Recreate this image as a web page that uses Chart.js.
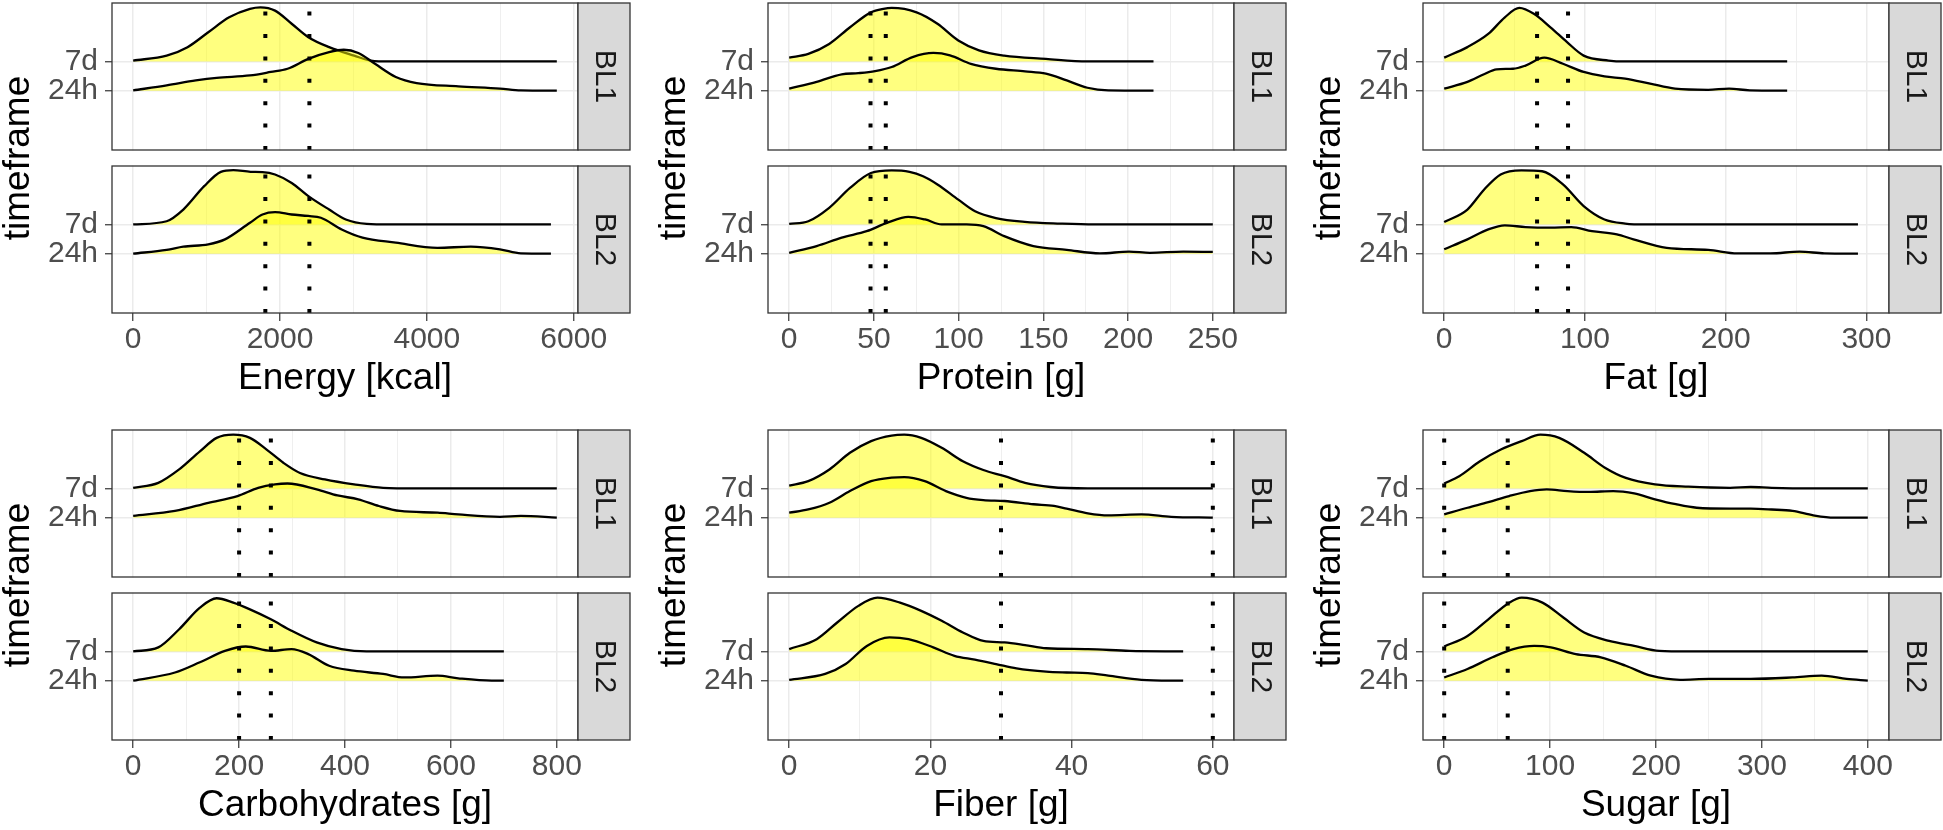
<!DOCTYPE html>
<html>
<head>
<meta charset="utf-8">
<script src="https://cdn.jsdelivr.net/npm/chart.js@4.4.1/dist/chart.umd.min.js"></script>
<style>
html,body{margin:0;padding:0;background:#ffffff;}
body{width:1943px;height:830px;position:relative;overflow:hidden;}
.cell{position:absolute;}
</style>
</head>
<body>
<script>
// ---------------- data ----------------
const timeframes = ['24h', '7d'];
const facets = ['BL1', 'BL2'];
const variables = ['Energy [kcal]', 'Protein [g]', 'Fat [g]', 'Carbohydrates [g]', 'Fiber [g]', 'Sugar [g]'];

// x tick labels (major) per variable
const energyTicks = [0, 2000, 4000, 6000];
const proteinTicks = [0, 50, 100, 150, 200, 250];
const fatTicks = [0, 100, 200, 300];
const carbsTicks = [0, 200, 400, 600, 800];
const fiberTicks = [0, 20, 40, 60];
const sugarTicks = [0, 100, 200, 300, 400];

// data range of each variable (x)
const energyRange = [0, 5770];
const proteinRange = [0, 250];
const fatRange = [0, 301];
const carbsRange = [0, 800];
const fiberRange = [0, 60];
const sugarRange = [0, 400];

// reference lines (dotted verticals)
const energyRef = [1800, 2400];
const proteinRef = [48, 57];
const fatRef = [66, 88];
const carbsRef = [200, 260];
const fiberRef = [30, 60];
const sugarRef = [0, 60];

// ridgeline heights [value, height]
const energy_BL1_7d = [[0,0.03],[456,0.20],[740,0.49],[1023,1.0],[1307,1.51],[1591,1.80],[1733,1.85],[1932,1.74],[2159,1.29],[2386,0.83],[2669,0.49],[3010,0.20],[3237,0.03],[3500,0],[5770,0]];
const energy_BL1_24h = [[0,0.01],[456,0.18],[853,0.35],[1137,0.44],[1591,0.52],[1875,0.64],[2102,0.75],[2386,1.09],[2669,1.32],[2868,1.40],[3066,1.29],[3293,0.92],[3577,0.47],[3861,0.26],[4428,0.15],[4996,0.07],[5280,0.01],[5770,0]];
const energy_BL2_7d = [[0,0],[456,0.11],[683,0.51],[967,1.31],[1194,1.80],[1364,1.86],[1600,1.80],[1761,1.79],[1932,1.71],[2159,1.42],[2386,0.97],[2669,0.51],[2896,0.17],[3180,0.02],[3500,0],[5690,0]];
const energy_BL2_24h = [[0,0],[456,0.13],[683,0.24],[1023,0.32],[1250,0.49],[1591,1.06],[1761,1.34],[1932,1.42],[2159,1.34],[2386,1.29],[2556,1.23],[2840,0.83],[3123,0.55],[3577,0.38],[4144,0.20],[4598,0.24],[4996,0.15],[5280,0.01],[5690,0]];

const protein_BL1_7d = [[0,0.13],[11.3,0.26],[23.6,0.60],[35.9,1.17],[48.2,1.68],[55.6,1.80],[60.5,1.83],[75.2,1.68],[87.5,1.29],[99.8,0.72],[112,0.38],[126.9,0.20],[151.5,0.09],[176,0],[215,0]];
const protein_BL1_24h = [[0,0.07],[16.2,0.30],[31,0.56],[40.8,0.60],[50.7,0.67],[60.5,0.81],[72.8,1.15],[85.1,1.29],[94.9,1.21],[107.2,0.92],[122,0.75],[139.2,0.66],[151.5,0.58],[163.8,0.35],[176,0.10],[188.3,0.01],[215,0]];
const protein_BL2_7d = [[0,0.02],[11.3,0.11],[23.6,0.57],[35.9,1.25],[48.2,1.76],[60.5,1.85],[71,1.80],[79,1.65],[87.5,1.37],[99.8,0.85],[109.7,0.45],[122,0.22],[139,0.09],[160,0.03],[180,0],[250,0]];
const protein_BL2_24h = [[0,0.03],[16.2,0.26],[31,0.55],[45.7,0.77],[58,1.06],[70.3,1.26],[80.2,1.17],[90,1.00],[104.7,1.00],[114.6,0.94],[126.9,0.60],[144.1,0.26],[163.8,0.13],[183.4,0.01],[200.6,0.07],[212.9,0.03],[232.6,0.07],[250,0.06]];

const fat_BL1_7d = [[0,0.13],[16.5,0.49],[31.3,0.94],[43.1,1.51],[53.4,1.83],[63.7,1.63],[75.5,1.17],[87.3,0.66],[99.1,0.20],[116.8,0.03],[128.6,0],[243.7,0]];
const fat_BL1_24h = [[0,0.07],[16.5,0.30],[28.3,0.56],[37.2,0.73],[49,0.75],[57.8,0.86],[71.1,1.13],[84.4,0.92],[99.1,0.64],[113.9,0.49],[128.6,0.41],[146.3,0.24],[164,0.07],[187.6,0.03],[202.4,0.07],[217.1,0.01],[243.7,0]];
const fat_BL2_7d = [[0,0.08],[16.5,0.51],[28.3,1.19],[40.1,1.71],[54.9,1.85],[69.6,1.82],[84.4,1.37],[99.1,0.63],[113.9,0.17],[128.6,0.03],[143.4,0],[294,0]];
const fat_BL2_24h = [[0,0.15],[16.5,0.49],[31.3,0.83],[43.1,0.97],[57.8,0.91],[75.5,0.89],[90.3,0.91],[105,0.77],[122.7,0.66],[134.5,0.49],[158.1,0.20],[187.6,0.13],[208.3,0.01],[231.9,0.01],[252.5,0.07],[270.2,0.01],[294,0]];

const carbs_BL1_7d = [[0,0.02],[47.4,0.19],[86.8,0.65],[126,1.27],[157.6,1.73],[189,1.84],[220.5,1.73],[252,1.33],[283.5,0.88],[315,0.53],[362,0.31],[417,0.14],[472,0.02],[535,0],[800,0]];
const carbs_BL1_24h = [[0,0.06],[78.9,0.23],[141.9,0.51],[197,0.74],[236,1.02],[267.7,1.14],[291.3,1.17],[346.5,0.97],[385.8,0.76],[425,0.63],[464,0.40],[504,0.23],[575,0.17],[614,0.11],[692.6,0.03],[732,0.06],[800,0]];
const carbs_BL2_7d = [[0,0],[47.4,0.14],[86.8,0.76],[126,1.50],[157.6,1.82],[189,1.67],[220.5,1.44],[260,1.10],[299,0.71],[346.5,0.31],[393.6,0.08],[440.6,0],[700,0]];
const carbs_BL2_24h = [[0,0],[78.9,0.28],[126,0.63],[173.3,1.02],[212.7,1.17],[260,1.02],[299,1.08],[330.7,0.91],[370,0.51],[417,0.34],[472,0.23],[511.6,0.11],[574.6,0.17],[614,0.08],[677,0],[700,0]];

const fiber_BL1_7d = [[0,0.10],[2.7,0.25],[5.7,0.65],[8.6,1.22],[11.6,1.62],[14.5,1.81],[16.3,1.84],[18.7,1.73],[21.6,1.39],[24.6,0.93],[27.5,0.63],[30.5,0.42],[33.4,0.19],[37,0.05],[42.3,0],[60,0]];
const fiber_BL1_24h = [[0,0.17],[2.7,0.28],[5.7,0.51],[8.6,0.91],[11.6,1.25],[14.5,1.37],[16.3,1.39],[19.2,1.25],[22.2,0.91],[25.1,0.68],[27.5,0.60],[30.5,0.57],[34.6,0.46],[37.5,0.40],[39.3,0.31],[42.3,0.15],[45.2,0.08],[49.9,0.11],[54.1,0.03],[60,0]];
const fiber_BL2_7d = [[0,0.08],[3.9,0.42],[6.8,0.99],[9.8,1.56],[12.5,1.84],[15.7,1.67],[18.7,1.39],[21.6,1.05],[24.6,0.65],[27.5,0.36],[30.5,0.31],[33.4,0.22],[36.4,0.11],[42.3,0.08],[48.2,0.02],[55.8,0]];
const fiber_BL2_24h = [[0,0.03],[5.1,0.23],[8,0.57],[11,1.19],[14.2,1.48],[16.9,1.42],[20.4,1.14],[23.4,0.85],[26.3,0.72],[29.3,0.57],[32.2,0.42],[36.4,0.31],[39.3,0.28],[42.3,0.26],[45.2,0.17],[49.9,0.03],[55.8,0]];

const sugar_BL1_7d = [[0,0.17],[14.2,0.42],[33.8,0.93],[53.5,1.33],[73.2,1.62],[90.9,1.84],[108.6,1.73],[132.2,1.22],[151.8,0.71],[171.5,0.36],[199,0.14],[230.5,0.06],[269.9,0.02],[289.5,0.05],[309.2,0.02],[348.5,0],[400,0]];
const sugar_BL1_24h = [[0,0.11],[22,0.34],[41.7,0.53],[61.4,0.74],[81,0.91],[96.8,0.97],[116.4,0.91],[136.1,0.88],[159.7,0.91],[179.4,0.83],[199,0.63],[218.7,0.46],[238.4,0.34],[269.9,0.31],[289.5,0.31],[309.2,0.28],[328.9,0.23],[348.5,0.08],[368.2,0],[400,0]];
const sugar_BL2_7d = [[0,0.17],[22,0.53],[41.7,1.10],[61.4,1.67],[73.2,1.84],[92.8,1.67],[112.5,1.16],[132.2,0.65],[155.8,0.36],[179.4,0.19],[203,0.02],[230.5,0],[400,0]];
const sugar_BL2_24h = [[0,0.11],[22,0.40],[45.6,0.80],[65.3,1.08],[85,1.19],[100.7,1.14],[124.3,0.91],[147.9,0.80],[171.5,0.51],[195.1,0.17],[222.7,0.03],[250.2,0.06],[289.5,0.06],[328.9,0.11],[356.4,0.17],[380,0.06],[400,0]];

// ---------------- assembly ----------------
const VARS = [
  {ticks: energyTicks, range: energyRange, refs: energyRef,
   dens: {BL1: {'7d': energy_BL1_7d, '24h': energy_BL1_24h}, BL2: {'7d': energy_BL2_7d, '24h': energy_BL2_24h}}},
  {ticks: proteinTicks, range: proteinRange, refs: proteinRef,
   dens: {BL1: {'7d': protein_BL1_7d, '24h': protein_BL1_24h}, BL2: {'7d': protein_BL2_7d, '24h': protein_BL2_24h}}},
  {ticks: fatTicks, range: fatRange, refs: fatRef,
   dens: {BL1: {'7d': fat_BL1_7d, '24h': fat_BL1_24h}, BL2: {'7d': fat_BL2_7d, '24h': fat_BL2_24h}}},
  {ticks: carbsTicks, range: carbsRange, refs: carbsRef,
   dens: {BL1: {'7d': carbs_BL1_7d, '24h': carbs_BL1_24h}, BL2: {'7d': carbs_BL2_7d, '24h': carbs_BL2_24h}}},
  {ticks: fiberTicks, range: fiberRange, refs: fiberRef,
   dens: {BL1: {'7d': fiber_BL1_7d, '24h': fiber_BL1_24h}, BL2: {'7d': fiber_BL2_7d, '24h': fiber_BL2_24h}}},
  {ticks: sugarTicks, range: sugarRange, refs: sugarRef,
   dens: {BL1: {'7d': sugar_BL1_7d, '24h': sugar_BL1_24h}, BL2: {'7d': sugar_BL2_7d, '24h': sugar_BL2_24h}}}
];

// layout
const FONT = "'Liberation Sans', Arial, Helvetica, sans-serif";
Chart.defaults.font.family = FONT;
Chart.defaults.animation = false;

const COL_LEFT = [0, 656, 1311];
const ROW_TOP = [0, 427];
const CW = 632, CH = 401;
const PAD_TOP = 3, PAD_RIGHT = 54, YAXIS_W = 112, XAXIS_H = 88, STRIP_W = 52;
const PANEL_PX = 147, GAP_PX = 16;
const Y_LO = -1.03, Y_HI = 4.0;
const GAP_U = GAP_PX * (Y_HI - Y_LO) / PANEL_PX;
const OFF = (Y_HI - Y_LO) + GAP_U;          // vertical offset of the upper facet
const facetOffset = {BL1: OFF, BL2: 0};
const basePos = {'24h': 1, '7d': 2};

const GRID = '#EBEBEB', DARK = '#333333';
const TICK_SIZE = 30, TITLE_SIZE = 37;

function panelPlugin() {
  return {
    id: 'panels',
    beforeDatasetsDraw(chart) {
      const {ctx, chartArea: a, scales: {y}} = chart;
      const t = y.getPixelForValue(Y_LO + OFF);
      const b = y.getPixelForValue(Y_HI);
      ctx.save();
      ctx.fillStyle = '#ffffff';
      ctx.fillRect(a.left - 1, t + 0.5, a.right - a.left + 2, b - t - 1);
      ctx.restore();
    },
    afterDatasetsDraw(chart) {
      const {ctx, chartArea: a, scales: {y}} = chart;
      ctx.save();
      facets.forEach(f => {
        const top = y.getPixelForValue(facetOffset[f] + Y_HI);
        const bot = y.getPixelForValue(facetOffset[f] + Y_LO);
        ctx.lineWidth = 1.3;
        ctx.strokeStyle = DARK;
        ctx.strokeRect(a.left, top, a.right - a.left, bot - top);
        ctx.fillStyle = '#D9D9D9';
        ctx.fillRect(a.right, top, STRIP_W, bot - top);
        ctx.strokeRect(a.right, top, STRIP_W, bot - top);
        ctx.save();
        ctx.translate(a.right + STRIP_W / 2, (top + bot) / 2);
        ctx.rotate(Math.PI / 2);
        ctx.fillStyle = '#1A1A1A';
        ctx.font = TICK_SIZE + 'px ' + FONT;
        ctx.textAlign = 'center';
        ctx.textBaseline = 'middle';
        ctx.fillText(f, 0, 0);
        ctx.restore();
      });
      ctx.restore();
    }
  };
}

VARS.forEach((v, i) => {
  const col = i % 3, row = Math.floor(i / 3);
  const D = v.range[1] - v.range[0];
  const xmin = v.range[0] - 0.05 * D, xmax = v.range[1] + 0.05 * D;
  const step = v.ticks[1] - v.ticks[0];
  const gridVals = [];
  v.ticks.forEach((t, k) => { gridVals.push(t); if (k < v.ticks.length - 1) gridVals.push(t + step / 2); });
  const isMajor = val => v.ticks.includes(val);

  const datasets = [];
  facets.forEach(f => {
    const off = facetOffset[f];
    ['7d', '24h'].forEach(tf => {
      const base = off + basePos[tf];
      datasets.push({
        type: 'line',
        label: f + ' ' + tf,
        data: v.dens[f][tf].map(p => ({x: p[0], y: base + p[1]})),
        fill: {value: base},
        backgroundColor: 'rgba(255,255,0,0.5)',
        borderColor: '#000000',
        borderWidth: 2.3,
        pointRadius: 0,
        cubicInterpolationMode: 'monotone',
        order: tf === '7d' ? 3 : 2
      });
    });
    v.refs.forEach(r => {
      datasets.push({
        type: 'line',
        label: f + ' ref ' + r,
        data: [{x: r, y: off + Y_LO}, {x: r, y: off + Y_HI}],
        fill: false,
        borderColor: '#000000',
        borderWidth: 4,
        borderDash: [4, 18.4],
        borderCapStyle: 'butt',
        pointRadius: 0,
        order: 1
      });
    });
  });

  const yTickVals = [];
  const yTickLabels = [];
  ['BL2', 'BL1'].forEach(f => timeframes.forEach(tf => { yTickVals.push(facetOffset[f] + basePos[tf]); yTickLabels.push(tf); }));

  const box = document.createElement('div');
  box.className = 'cell';
  box.style.left = COL_LEFT[col] + 'px';
  box.style.top = ROW_TOP[row] + 'px';
  box.style.width = CW + 'px';
  box.style.height = CH + 'px';
  const cv = document.createElement('canvas');
  box.appendChild(cv);
  document.body.appendChild(box);

  new Chart(cv, {
    type: 'line',
    data: {datasets},
    plugins: [panelPlugin()],
    options: {
      responsive: true,
      maintainAspectRatio: false,
      devicePixelRatio: 1,
      animation: false,
      events: [],
      layout: {padding: {top: PAD_TOP, right: PAD_RIGHT, bottom: 0, left: 0}},
      plugins: {legend: {display: false}, tooltip: {enabled: false}},
      scales: {
        x: {
          type: 'linear',
          min: xmin, max: xmax,
          afterBuildTicks: s => { s.ticks = gridVals.map(g => ({value: g})); },
          afterFit: s => { s.height = XAXIS_H; },
          ticks: {
            autoSkip: false, maxRotation: 0, minRotation: 0,
            font: {size: TICK_SIZE}, color: '#4D4D4D', padding: 0.5,
            callback: val => isMajor(val) ? String(val) : ''
          },
          grid: {
            color: GRID,
            lineWidth: c => (c.tick && isMajor(c.tick.value)) ? 1.5 : 0.8,
            drawTicks: true, tickLength: 8,
            tickColor: c => (c.tick && isMajor(c.tick.value)) ? DARK : 'rgba(0,0,0,0)',
            tickWidth: 1.2
          },
          border: {display: false},
          title: {display: true, text: variables[i], color: '#000000', font: {size: TITLE_SIZE, lineHeight: 1.2}, padding: 0}
        },
        y: {
          type: 'linear',
          min: Y_LO, max: Y_HI + OFF,
          afterBuildTicks: s => { s.ticks = yTickVals.map(g => ({value: g})); },
          afterFit: s => { s.width = YAXIS_W; s.paddingTop = 0; s.paddingBottom = 0; },
          ticks: {
            autoSkip: false, font: {size: TICK_SIZE}, color: '#4D4D4D', padding: 7,
            callback: (val, idx) => yTickLabels[idx]
          },
          grid: {color: GRID, lineWidth: 1.5, drawTicks: true, tickLength: 7, tickColor: DARK, tickWidth: 1.2},
          border: {display: false},
          title: {display: true, text: 'timeframe', color: '#000000', font: {size: TITLE_SIZE, lineHeight: 1.0}, padding: 0}
        }
      }
    }
  });
});
</script>
</body>
</html>
